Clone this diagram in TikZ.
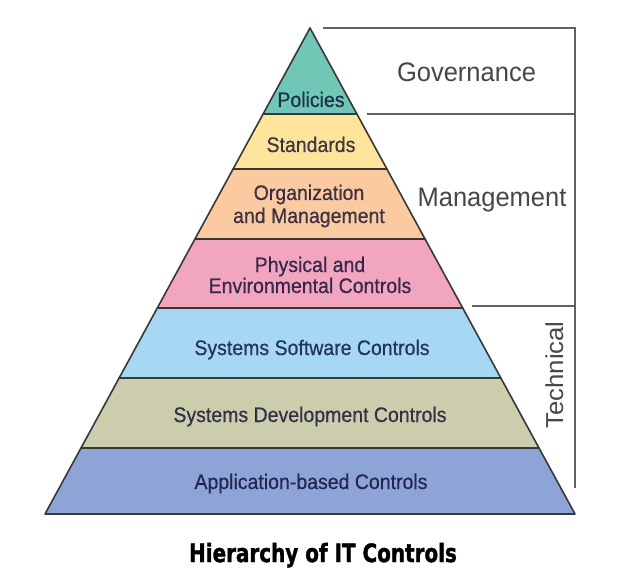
\documentclass[tikz,border=0pt]{standalone}
\usepackage{fontspec}
\setmainfont{Liberation Sans}
\newfontfamily\capfont[FakeBold=1.6]{DejaVu Sans}
\newfontfamily\lblfont[FakeBold=0.4]{Liberation Sans}
\begin{document}
\begin{tikzpicture}[x=1pt,y=-1pt,
  band/.style={draw=black!78,line width=1.6pt,line join=round},
  lbl/.style={anchor=base,inner sep=0pt,yscale=1.08,text=black!85!blue,text opacity=0.74,font=\lblfont\fontsize{19.5}{22}\selectfont},
  side/.style={anchor=base,inner sep=0pt,yscale=1.05,text=black!72,font=\fontsize{25.5}{28}\selectfont},
  brk/.style={draw=black!62,line width=1.8pt}]
\useasboundingbox (0,0) rectangle (617,585);
\fill[white] (0,0) rectangle (617,585);
% pyramid coordinates
\coordinate (A) at (310,28);
\coordinate (L1) at (263.1,114); \coordinate (R1) at (356.9,114);
\coordinate (L2) at (233.1,169); \coordinate (R2) at (386.9,169);
\coordinate (L3) at (194.95,239); \coordinate (R3) at (425.05,239);
\coordinate (L4) at (157.3,308); \coordinate (R4) at (462.7,308);
\coordinate (L5) at (119.15,378); \coordinate (R5) at (500.85,378);
\coordinate (L6) at (81.0,448); \coordinate (R6) at (539.0,448);
\coordinate (L7) at (45,514); \coordinate (R7) at (575,514);
% bands
\path[band,fill={rgb,255:red,112;green,199;blue,182}] (A) -- (R1) -- (L1) -- cycle;
\path[band,fill={rgb,255:red,253;green,228;blue,155}] (L1) -- (R1) -- (R2) -- (L2) -- cycle;
\path[band,fill={rgb,255:red,252;green,202;blue,160}] (L2) -- (R2) -- (R3) -- (L3) -- cycle;
\path[band,fill={rgb,255:red,242;green,165;blue,190}] (L3) -- (R3) -- (R4) -- (L4) -- cycle;
\path[band,fill={rgb,255:red,166;green,216;blue,244}] (L4) -- (R4) -- (R5) -- (L5) -- cycle;
\path[band,fill={rgb,255:red,204;green,205;blue,173}] (L5) -- (R5) -- (R6) -- (L6) -- cycle;
\path[band,fill={rgb,255:red,142;green,164;blue,214}] (L6) -- (R6) -- (R7) -- (L7) -- cycle;
% band labels
\node[lbl] (pol) at (311,107) {Policies};
\node[lbl] (std) at (311,152) {Standards};
\node[lbl] (org1) at (309,200) {Organization};
\node[lbl] (org2) at (309,223) {and Management};
\node[lbl] (phy1) at (310,272) {Physical and};
\node[lbl] (phy2) at (310,293) {Environmental Controls};
\node[lbl] (ssc) at (312,355) {Systems Software Controls};
\node[lbl] (sdc) at (310,422) {Systems Development Controls};
\node[lbl] (abc) at (311,489) {Application-based Controls};
% brackets
\coordinate (T0) at (323,28); \coordinate (TC) at (575,28);
\coordinate (G0) at (367,114); \coordinate (GC) at (575,114);
\coordinate (M0) at (472,306); \coordinate (MC) at (575,306);
\coordinate (VB) at (575,488);
\draw[brk] (T0) -- (TC) -- (VB);
\draw[brk] (G0) -- (GC);
\draw[brk] (M0) -- (MC);
\node[side] (gov) at (466.5,82) {Governance};
\node[side] (man) at (492,207) {Management};
\node[side,rotate=90,font=\fontsize{24.5}{28}\selectfont] (tec) at (563,375) {Technical};
% caption
\node[anchor=base,inner sep=0pt,xscale=0.95,yscale=1.2,font=\capfont\bfseries\fontsize{21}{24}\selectfont] (cap) at (323,562) {Hierarchy of IT Controls};
\end{tikzpicture}
\end{document}
